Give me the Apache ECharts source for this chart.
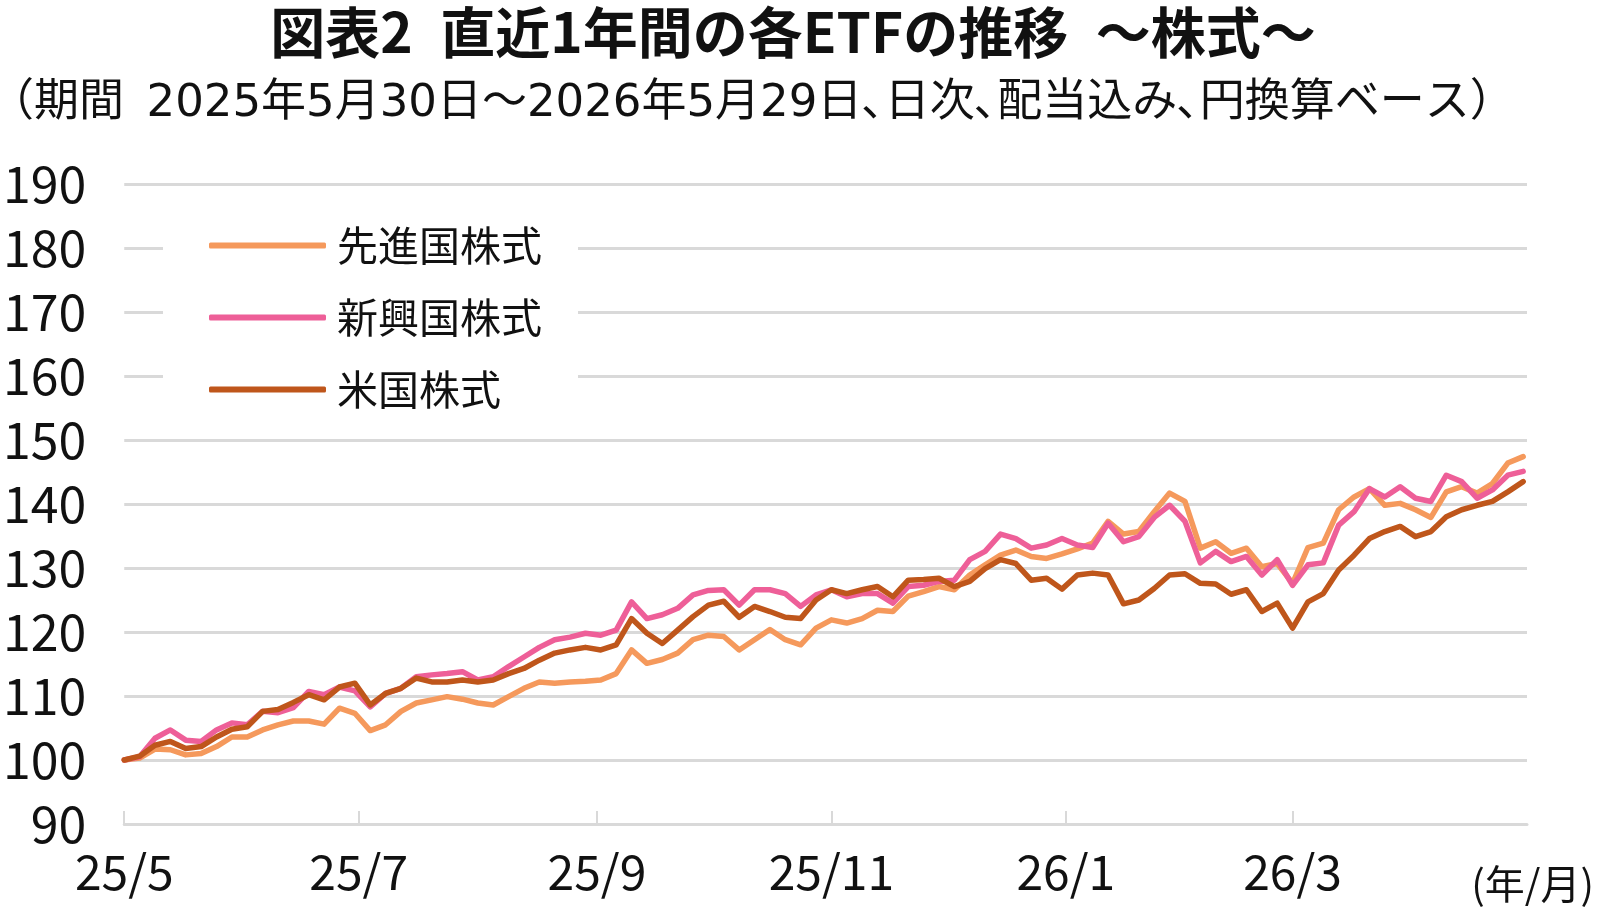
<!DOCTYPE html>
<html>
<head>
<meta charset="utf-8">
<script src="https://cdn.jsdelivr.net/npm/echarts@6/dist/echarts.min.js"></script>
<style>
html, body { margin: 0; padding: 0; background: #fff; }
#main { width: 1600px; height: 911px; }
</style>
</head>
<body>
<div id="main"></div>
<script>
// 2025/5/30 から4日おき
const dates = [
  '2025-05-30','2025-06-03','2025-06-07','2025-06-11','2025-06-15','2025-06-19','2025-06-23','2025-06-27',
  '2025-07-01','2025-07-05','2025-07-09','2025-07-13','2025-07-17','2025-07-21','2025-07-25','2025-07-29',
  '2025-08-02','2025-08-06','2025-08-10','2025-08-14','2025-08-18','2025-08-22','2025-08-26','2025-08-30',
  '2025-09-03','2025-09-07','2025-09-11','2025-09-15','2025-09-19','2025-09-23','2025-09-27','2025-10-01',
  '2025-10-05','2025-10-09','2025-10-13','2025-10-17','2025-10-21','2025-10-25','2025-10-29','2025-11-02',
  '2025-11-06','2025-11-10','2025-11-14','2025-11-18','2025-11-22','2025-11-26','2025-11-30','2025-12-04',
  '2025-12-08','2025-12-12','2025-12-16','2025-12-20','2025-12-24','2025-12-28','2026-01-01','2026-01-05',
  '2026-01-09','2026-01-13','2026-01-17','2026-01-21','2026-01-25','2026-01-29','2026-02-02','2026-02-06',
  '2026-02-10','2026-02-14','2026-02-18','2026-02-22','2026-02-26','2026-03-02','2026-03-06','2026-03-10',
  '2026-03-14','2026-03-18','2026-03-22','2026-03-26','2026-03-30','2026-04-03','2026-04-07','2026-04-11',
  '2026-04-15','2026-04-19','2026-04-23','2026-04-27','2026-05-01','2026-05-05','2026-05-09','2026-05-13',
  '2026-05-17','2026-05-21','2026-05-25','2026-05-29'
];

// 先進国株式
const developed = [
  100.0,100.3,101.7,101.6,100.8,101.0,102.1,103.6,
  103.6,104.7,105.5,106.1,106.1,105.6,108.1,107.3,
  104.6,105.5,107.6,108.9,109.4,109.9,109.5,108.9,
  108.6,109.9,111.2,112.2,112.0,112.2,112.3,112.5,
  113.5,117.2,115.1,115.7,116.7,118.8,119.5,119.3,
  117.2,118.8,120.4,118.8,118.0,120.6,121.9,121.4,
  122.1,123.4,123.2,125.6,126.3,127.1,126.6,128.9,
  130.5,132.0,132.8,131.8,131.5,132.2,133.0,133.9,
  137.3,135.3,135.7,138.8,141.7,140.4,133.1,134.1,
  132.3,133.1,130.2,130.7,127.6,133.2,133.9,139.1,
  141.1,142.4,139.8,140.1,139.1,137.9,141.9,142.7,
  141.7,143.2,146.4,147.4
];

// 新興国株式
const emerging = [
  100.0,100.5,103.4,104.7,103.1,102.9,104.7,105.8,
  105.5,107.6,107.4,108.2,110.7,110.2,111.4,110.8,
  108.3,110.4,111.2,113.0,113.3,113.5,113.8,112.5,
  113.0,114.6,116.1,117.6,118.8,119.2,119.8,119.5,
  120.3,124.7,122.1,122.7,123.7,125.8,126.5,126.6,
  124.2,126.6,126.6,126.0,124.0,125.8,126.6,125.5,
  126.0,126.0,124.5,127.1,127.3,127.9,128.1,131.3,
  132.6,135.3,134.6,133.1,133.6,134.6,133.6,133.2,
  137.0,134.1,134.9,137.9,139.8,137.3,130.8,132.6,
  131.0,131.8,128.9,131.3,127.3,130.5,130.8,136.7,
  138.8,142.4,141.1,142.7,140.9,140.4,144.5,143.5,
  140.9,142.2,144.5,145.1
];

// 米国株式
const us = [
  100.0,100.6,102.3,102.9,101.8,102.1,103.6,104.8,
  105.2,107.6,107.9,109.0,110.2,109.4,111.4,112.0,
  108.6,110.4,111.2,112.8,112.2,112.2,112.5,112.2,
  112.5,113.5,114.3,115.6,116.7,117.2,117.6,117.2,
  118.0,122.1,119.8,118.2,120.3,122.4,124.2,124.8,
  122.3,124.0,123.2,122.3,122.1,125.0,126.6,126.0,
  126.6,127.1,125.5,128.1,128.2,128.4,127.1,127.9,
  129.9,131.3,130.7,128.1,128.4,126.7,128.9,129.2,
  128.9,124.4,125.0,126.8,128.9,129.1,127.6,127.5,
  125.9,126.6,123.2,124.5,120.6,124.7,126.0,129.7,
  132.0,134.6,135.7,136.5,134.9,135.7,138.0,139.1,
  139.8,140.4,141.9,143.5
];

const seriesNames = ['先進国株式', '新興国株式', '米国株式'];
const seriesColors = ['#F5995C', '#EE5F98', '#BF561B'];
const tickDates = ['2025-05-30','2025-07-30','2025-09-30','2025-11-30','2026-01-30','2026-03-30'];
const tickLabels = ['25/5','25/7','25/9','25/11','26/1','26/3'];

const toTime = s => new Date(s + 'T00:00:00').getTime();
const tickTimes = tickDates.map(toTime);
const FONT = '"Noto Sans CJK JP", "Noto Sans", sans-serif';
// 数字の幅が広いので数字だけ DejaVu で
const FONT_NUM = '"DejaVu Sans", "Noto Sans CJK JP", sans-serif';

let myChart = echarts.init(document.getElementById('main'));
let option = {
    animation: false,
    backgroundColor: '#fff',
    textStyle: { fontFamily: FONT },
    title: [
        {
            text: '図表2\u2002直近1年間の各ETFの推移\u2002～株式～',
            left: 788,
            top: 0,
            textAlign: 'center',
            textStyle: { fontFamily: FONT, fontSize: 55, fontWeight: 'bold', color: '#111' }
        },
        {
            text: '（期間\u20022025年5月30日～2026年5月29日､日次､配当込み､円換算ベース）',
            left: -16,
            top: 77,
            textStyle: { fontFamily: FONT_NUM, fontSize: 45, fontWeight: 'normal', color: '#111' }
        }
    ],
    legend: {
        orient: 'vertical',
        left: 163,
        top: 205,
        padding: [20, 36, 20, 46],
        backgroundColor: '#fff',
        icon: 'roundRect',
        itemWidth: 117,
        itemHeight: 6,
        itemGap: 31,
        data: seriesNames,
        textStyle: { fontFamily: FONT, fontSize: 41, color: '#111', padding: [0, 0, 0, 6], lineHeight: 40 }
    },
    grid: {
        left: 120,
        right: 73,
        top: 184,
        bottom: 87,
        containLabel: false
    },
    xAxis: {
        // 日付はタイムスタンプの数値軸で扱う
        type: 'value',
        min: toTime('2025-05-30'),
        max: toTime('2026-05-30'),
        axisLine: { show: true, lineStyle: { color: '#d9d9d9', width: 3 } },
        axisTick: {
            show: true,
            inside: true,
            length: 13,
            customValues: tickTimes,
            lineStyle: { color: '#d9d9d9', width: 2 }
        },
        axisLabel: {
            customValues: tickTimes,
            fontFamily: FONT,
            fontSize: 48,
            color: '#111',
            margin: 24,
            formatter: function (val) {
                let i = tickTimes.indexOf(val);
                return i >= 0 ? tickLabels[i] : '';
            }
        },
        splitLine: { show: false }
    },
    yAxis: {
        type: 'value',
        min: 90,
        max: 190,
        interval: 10,
        axisLine: { show: false },
        axisTick: { show: false },
        axisLabel: { fontFamily: FONT, fontSize: 50, color: '#111', margin: 38 },
        splitLine: { show: true, lineStyle: { color: '#d9d9d9', width: 3 } }
    },
    series: [developed, emerging, us].map((vals, k) => ({
        name: seriesNames[k],
        type: 'line',
        showSymbol: false,
        symbol: 'none',
        color: seriesColors[k],
        lineStyle: { width: 5.5, color: seriesColors[k], cap: 'round', join: 'round' },
        emphasis: { disabled: true },
        data: dates.map((d, i) => [toTime(d), vals[i]])
    })),
    graphic: [
        {
            type: 'text',
            right: 6,
            top: 864,
            style: { text: '(年/月)', font: '40px ' + FONT, fill: '#111' }
        }
    ]
};
myChart.setOption(option);
</script>
</body>
</html>
